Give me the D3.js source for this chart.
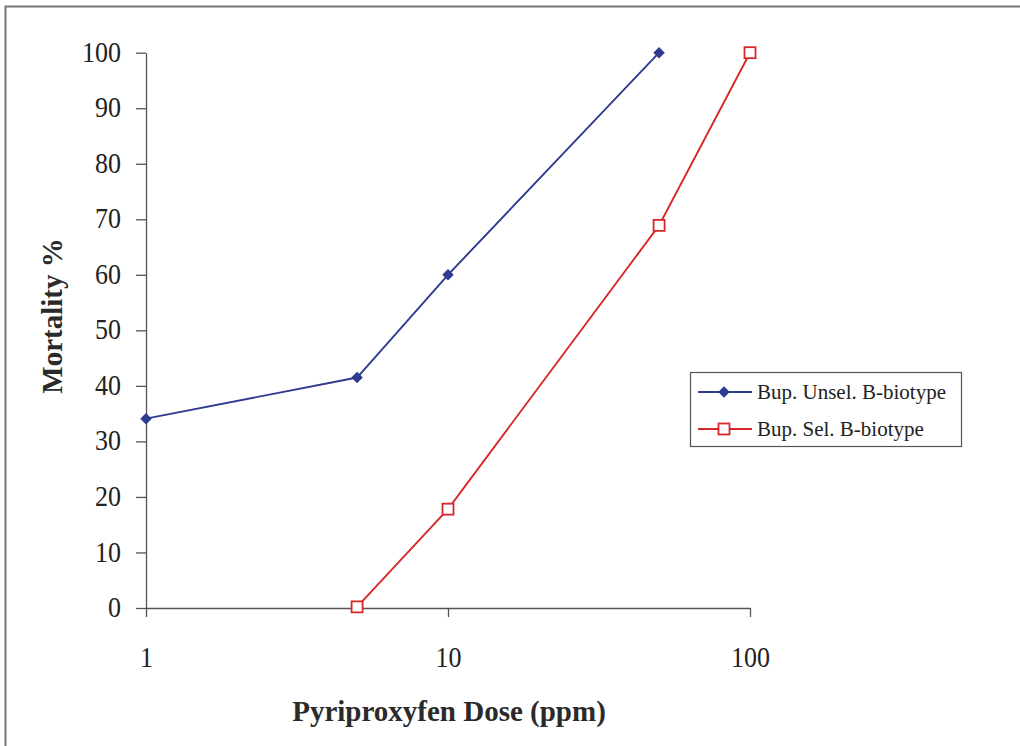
<!DOCTYPE html>
<html lang="en">
<head>
    <meta charset="UTF-8">
    <title>Mortality Vs. Pyriproxyfen Dose</title>
    <script src="https://d3js.org/d3.v7.min.js"></script>
    <style>
        body { margin: 0; background: white; }
        .axis { font-family: "Liberation Serif", "Times New Roman", serif; font-size: 26px; }
        .axis path, .axis line { stroke: #555; stroke-width: 1.3px; }
        .axis text { fill: #222; }
        .title { font-family: "Liberation Serif", "Times New Roman", serif; font-size: 29px; font-weight: bold; fill: #2a2a2a; }
        .legend text { font-family: "Liberation Serif", "Times New Roman", serif; font-size: 21px; fill: #222; }
        .line { fill: none; stroke-width: 1.9px; }
    </style>
</head>
<body>
<svg width="1020" height="746"></svg>
<script type="text/javascript">
    // data
    var unselDoses = [1, 5, 10, 50];
    var unselMortality = [34.1, 41.5, 60, 100];
    var selDoses = [5, 10, 50, 100];
    var selMortality = [0.2, 17.8, 68.9, 100];
    var xTicks = [1, 10, 100];
    var yTicks = [0, 10, 20, 30, 40, 50, 60, 70, 80, 90, 100];

    var series = [
        {name: "Bup. Unsel. B-biotype", x: unselDoses, y: unselMortality, color: "#2f3b91", marker: "diamond"},
        {name: "Bup. Sel. B-biotype", x: selDoses, y: selMortality, color: "#d8282c", marker: "square"}
    ];

    var configuration = {
        "left": 146,
        "right": 750,
        "top": 52.7,
        "bottom": 608,
        "text_stretch": 1.17
    };

    var svg = d3.select("svg");

    // outer frame (runs off the right and bottom edge)
    svg.append("rect")
        .attr("x", 5.5).attr("y", 6.5)
        .attr("width", 1100).attr("height", 800)
        .attr("fill", "none").attr("stroke", "#777").attr("stroke-width", 2);

    var xScale = d3.scaleLog()
        .domain([1, 100])
        .range([configuration.left, configuration.right]);

    var yScale = d3.scaleLinear()
        .domain([0, 100])
        .range([configuration.bottom, configuration.top]);

    var xAxis = svg.append("g")
        .classed("axis", true)
        .attr("transform", "translate(0," + configuration.bottom + ")")
        .call(d3.axisBottom(xScale).tickValues(xTicks).tickFormat(d3.format("d"))
            .tickSize(9).tickSizeOuter(0).tickPadding(23));

    var yAxis = svg.append("g")
        .classed("axis", true)
        .attr("transform", "translate(" + configuration.left + ",0)")
        .call(d3.axisLeft(yScale).tickValues(yTicks)
            .tickSize(10).tickSizeOuter(0).tickPadding(15));

    // the scanned figure has tall, narrow digits
    svg.selectAll(".axis .tick text")
        .attr("transform", "scale(1," + configuration.text_stretch + ")");
    yAxis.selectAll(".tick text").attr("dy", "0.28em");

    // axis titles
    svg.append("text")
        .attr("class", "title")
        .attr("x", 449).attr("y", 721)
        .attr("text-anchor", "middle")
        .text("Pyriproxyfen Dose (ppm)");

    svg.append("text")
        .attr("class", "title")
        .attr("transform", "translate(62,316) rotate(-90)")
        .attr("text-anchor", "middle")
        .text("Mortality %");

    var diamond = d3.symbol().type(d3.symbolSquare).size(66);

    function drawMarker(g, s, cx, cy) {
        if (s.marker == "diamond") {
            g.append("path")
                .attr("d", diamond)
                .attr("transform", "translate(" + cx + "," + cy + ") rotate(45)")
                .attr("fill", s.color);
        } else {
            g.append("rect")
                .attr("x", cx - 5.5).attr("y", cy - 5.5)
                .attr("width", 11).attr("height", 11)
                .attr("fill", "white")
                .attr("stroke", s.color).attr("stroke-width", 1.8);
        }
    }

    var lineShaper = d3.line()
        .x(function (d) { return xScale(d[0]); })
        .y(function (d) { return yScale(d[1]); });

    series.forEach(function (s) {
        var pts = s.x.map(function (v, i) { return [v, s.y[i]]; });
        var g = svg.append("g");
        g.append("path")
            .datum(pts)
            .attr("class", "line")
            .attr("stroke", s.color)
            .attr("d", lineShaper);
        pts.forEach(function (p) {
            drawMarker(g, s, xScale(p[0]), yScale(p[1]));
        });
    });

    // legend
    var legend = svg.append("g").attr("class", "legend");
    legend.append("rect")
        .attr("x", 690.5).attr("y", 372.5)
        .attr("width", 271).attr("height", 74)
        .attr("fill", "white").attr("stroke", "#555").attr("stroke-width", 1.2);

    series.forEach(function (s, i) {
        var ly = 392 + i * 37;
        legend.append("line")
            .attr("x1", 698).attr("x2", 752)
            .attr("y1", ly).attr("y2", ly)
            .attr("stroke", s.color).attr("stroke-width", 1.8);
        drawMarker(legend, s, 724, ly);
        legend.append("text")
            .attr("x", 757).attr("y", ly + 7)
            .text(s.name);
    });
</script>
</body>
</html>
